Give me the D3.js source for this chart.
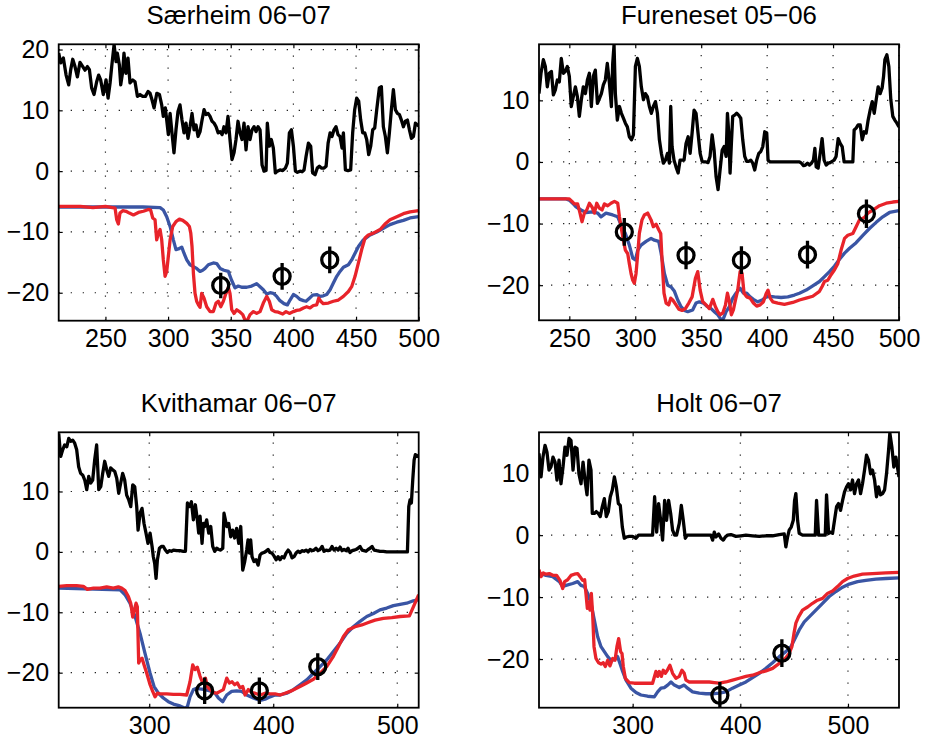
<!DOCTYPE html>
<html>
<head>
<meta charset="utf-8">
<script src="https://cdn.jsdelivr.net/npm/d3@7/dist/d3.min.js"></script>
<style>
  html, body { margin: 0; padding: 0; background: #fff; }
  svg { display: block; }
  text { font-family: "Liberation Sans", Arial, Helvetica, sans-serif; fill: #000; }
</style>
</head>
<body>
<svg id="chart" width="936" height="748"></svg>
<script>
// ---- Særheim 06-07 ----
const sarTitle = "Særheim 06−07";
const sarXTicks = [250, 300, 350, 400, 450, 500];
const sarYTicks = [-20, -10, 0, 10, 20];
const sarAir = [[212.7,19.4],[214.3,17.8],[216.4,18.6],[218.6,15.8],[220.7,14.2],[222.3,16.7],[223.9,18.4],[225.7,17.2],[227.6,15.5],[229.7,17.9],[231.9,17.2],[233.7,16.6],[235.6,17.2],[237.2,16.7],[239.0,13.7],[240.9,12.6],[243.0,14.7],[244.6,15.8],[246.2,15.0],[248.3,12.6],[250.5,15.0],[252.1,12.0],[253.7,14.5],[255.0,17.2],[256.9,20.8],[258.5,18.0],[259.5,19.4],[261.1,17.5],[262.2,14.2],[263.8,16.4],[264.8,19.4],[266.4,16.1],[268.0,18.6],[269.6,14.5],[271.8,15.0],[273.6,14.7],[275.5,12.3],[277.6,12.6],[279.7,12.3],[281.9,12.3],[284.0,13.1],[285.6,12.8],[287.2,11.7],[288.8,10.4],[291.0,12.8],[293.1,12.6],[294.9,10.9],[296.2,9.0],[297.8,10.4],[298.9,8.4],[300.2,6.0],[301.6,9.5],[303.1,6.3],[304.7,3.0],[306.3,6.8],[307.9,9.8],[309.5,10.9],[311.1,8.4],[312.7,6.3],[314.3,7.9],[315.9,5.4],[317.5,7.3],[319.1,9.5],[320.7,6.8],[322.3,7.6],[323.9,5.7],[325.5,6.5],[327.1,8.4],[328.7,10.1],[330.3,9.3],[331.9,9.5],[333.5,9.0],[335.1,8.2],[336.7,7.9],[338.3,7.3],[339.9,6.3],[341.5,6.5],[343.1,6.0],[344.6,7.3],[346.2,6.3],[347.8,9.0],[349.4,5.2],[351.0,1.9],[352.6,3.0],[354.2,5.2],[355.8,8.2],[357.4,6.3],[359.0,5.2],[360.6,7.9],[362.2,3.5],[363.8,7.3],[365.4,5.2],[367.0,6.8],[368.6,7.3],[370.2,6.5],[371.8,7.3],[373.4,6.8],[375.0,1.0],[376.6,0.0],[378.2,0.1],[379.2,7.9],[380.8,4.1],[382.4,5.2],[384.0,3.8],[385.6,-0.3],[387.2,0.0],[389.3,0.2],[391.5,0.1],[393.6,0.5],[395.2,1.3],[396.8,6.3],[398.4,6.8],[400.0,4.1],[401.6,0.0],[403.2,-0.2],[405.3,0.0],[406.9,-0.1],[408.5,0.2],[410.1,2.4],[412.0,4.6],[413.8,4.1],[415.4,-0.3],[417.3,-0.6],[419.1,0.5],[420.7,0.8],[422.3,0.5],[424.5,0.5],[426.1,0.8],[427.7,4.6],[429.3,6.3],[430.8,5.7],[432.4,6.8],[434.0,7.3],[435.6,6.0],[437.2,5.7],[438.8,3.8],[439.9,6.3],[441.5,0.2],[443.6,0.1],[445.7,0.2],[447.3,6.3],[448.9,10.1],[450.5,12.0],[452.1,11.5],[453.7,8.4],[455.3,6.3],[456.9,6.3],[458.5,5.2],[460.1,2.7],[461.7,4.1],[463.3,6.8],[464.9,7.1],[466.5,10.1],[468.6,13.7],[470.2,13.9],[471.8,7.3],[473.4,5.7],[475.0,3.0],[476.6,6.3],[478.2,10.1],[479.8,13.4],[481.4,10.1],[483.0,9.5],[484.6,9.3],[486.2,8.4],[487.8,7.3],[489.4,8.2],[491.0,8.4],[492.6,6.8],[494.2,5.4],[495.8,5.7],[497.4,7.9],[499.0,7.6],[500.0,7.4]];
const sarModel = [[212.7,-5.9],[250,-5.9],[280,-5.9],[293.6,-6.0],[296.2,-6.4],[298.9,-7.5],[301.6,-9.1],[304.2,-11.3],[306.3,-12.9],[308.2,-12.8],[310.9,-12.5],[312.7,-13.5],[314.9,-14.6],[317.5,-15.4],[320.2,-15.7],[322.8,-16.0],[325.5,-16.5],[327.6,-16.3],[329.5,-16.0],[332.1,-15.4],[336.1,-15.1],[338.8,-15.2],[341.5,-16.0],[344.6,-16.3],[348.1,-16.5],[350.6,-17.9],[353.4,-19.2],[356.0,-18.9],[358.7,-19.1],[362.7,-19.1],[366.7,-18.9],[370.7,-18.5],[373.4,-19.0],[376.0,-19.5],[378.7,-20.2],[381.4,-20.0],[384.0,-20.1],[386.7,-20.6],[389.3,-21.3],[392.5,-21.8],[395.2,-22.0],[397.3,-21.2],[400.0,-20.3],[402.6,-20.6],[405.3,-21.1],[408.0,-21.3],[410.1,-21.4],[412.8,-20.9],[415.4,-20.4],[418.6,-20.3],[421.3,-20.6],[423.9,-20.5],[426.6,-20.3],[429.3,-19.5],[431.9,-18.4],[434.6,-17.3],[437.2,-16.5],[439.9,-15.8],[443.9,-15.4],[446.5,-14.6],[449.2,-13.5],[451.9,-12.4],[455.9,-11.3],[461.2,-10.5],[466.5,-10.0],[471.8,-9.4],[477.1,-8.8],[482.5,-8.4],[487.8,-8.1],[493.1,-7.7],[500.0,-7.5]];
const sarMeasured = [[212.7,-5.8],[230,-5.8],[240,-6.0],[250,-5.8],[257.7,-6.1],[259.0,-8.0],[260.3,-8.7],[261.6,-6.9],[263.8,-6.5],[266.4,-6.6],[269.1,-6.9],[272.3,-7.2],[276.3,-6.8],[280.3,-6.6],[284.3,-6.3],[286.1,-6.4],[287.7,-7.7],[289.6,-8.0],[290.9,-11.3],[292.3,-10.2],[293.6,-9.6],[294.9,-11.3],[296.2,-14.6],[297.6,-17.3],[298.9,-16.5],[300.2,-14.0],[301.6,-11.3],[303.7,-9.1],[306.3,-8.3],[309.0,-7.9],[311.7,-8.1],[314.9,-8.6],[317.0,-9.1],[318.1,-10.2],[319.1,-12.4],[320.2,-16.8],[321.5,-20.1],[322.8,-21.4],[324.2,-22.0],[325.5,-22.4],[326.8,-20.1],[328.7,-20.9],[330.8,-22.3],[333.5,-23.1],[336.1,-23.1],[338.3,-21.7],[340.1,-21.4],[342.0,-22.3],[344.1,-21.4],[346.2,-20.1],[348.1,-19.1],[349.4,-20.1],[350.8,-22.8],[352.6,-23.4],[354.8,-22.8],[356.9,-23.1],[359.6,-23.6],[361.4,-24.5],[363.3,-24.5],[365.4,-23.6],[368.1,-23.1],[370.7,-23.4],[373.4,-23.1],[376.0,-21.7],[378.7,-20.6],[380.8,-21.4],[382.7,-22.8],[385.3,-23.1],[388.0,-23.2],[391.5,-23.5],[394.1,-23.1],[396.8,-23.4],[400.0,-23.1],[402.6,-22.9],[405.3,-22.8],[408.0,-22.5],[410.6,-22.3],[413.3,-22.5],[415.9,-22.1],[418.6,-22.0],[420.2,-20.9],[421.8,-21.4],[423.9,-21.8],[427.9,-21.7],[431.9,-21.4],[435.9,-21.2],[439.9,-20.6],[443.9,-19.8],[446.5,-19.0],[449.2,-17.3],[451.9,-15.1],[454.5,-12.9],[457.2,-11.0],[459.8,-10.5],[463.8,-10.2],[469.2,-9.6],[473.1,-8.7],[477.1,-8.0],[482.5,-7.5],[487.8,-7.0],[493.1,-6.7],[500.0,-6.5]];
// [day, value, half-width of error bar]
const sarSamples = [[342,-18.8,2.1],[391,-17.3,2.2],[429,-14.6,2.2]];

// ---- Fureneset 05-06 ----
const furTitle = "Fureneset 05−06";
const furXTicks = [250, 300, 350, 400, 450, 500];
const furYTicks = [-20, -10, 0, 10];
const furAir = [[227.0,11.1],[228.5,14.4],[230.3,16.6],[231.8,15.5],[233.3,12.2],[234.8,14.4],[236.4,14.7],[237.9,10.9],[239.4,11.7],[240.9,13.3],[242.4,13.0],[243.9,16.8],[245.5,14.4],[247.0,14.7],[248.5,15.5],[250.0,13.9],[251.5,9.0],[253.0,10.6],[254.6,12.2],[256.1,10.6],[257.6,7.4],[259.1,10.1],[260.6,12.2],[262.2,11.1],[263.7,13.3],[265.2,14.4],[266.7,9.0],[268.2,13.9],[269.7,14.9],[271.3,9.5],[272.8,10.3],[274.3,11.1],[275.8,12.5],[277.3,13.3],[278.8,16.0],[280.4,12.8],[281.9,9.0],[282.9,16.0],[283.9,19.0],[284.9,11.1],[286.4,6.8],[288.0,9.0],[289.5,7.9],[291.0,7.1],[292.5,6.3],[294.0,5.7],[295.5,4.1],[297.1,3.6],[298.6,4.4],[300.1,15.5],[301.6,16.8],[303.1,15.5],[304.6,12.2],[306.2,10.1],[307.7,11.1],[309.2,10.6],[310.7,9.0],[312.2,7.9],[313.7,9.0],[315.3,9.8],[316.8,7.9],[318.3,3.6],[319.8,1.4],[321.3,-0.2],[322.9,0.3],[324.4,1.4],[325.9,-0.2],[326.9,9.0],[327.9,2.5],[329.4,0.3],[330.9,-0.8],[332.5,-1.8],[334.0,0.3],[335.5,0.3],[337.0,0.3],[338.5,3.0],[340.1,4.1],[341.6,1.4],[343.1,4.7],[344.6,8.4],[346.1,7.9],[347.6,4.7],[349.2,1.4],[350.7,0.1],[352.2,0.0],[353.7,0.0],[355.2,-0.1],[356.7,0.9],[358.3,4.4],[359.8,1.9],[361.3,-2.4],[362.8,-4.5],[364.3,-1.3],[365.9,1.9],[367.4,2.5],[368.9,0.9],[369.9,7.9],[370.9,4.7],[371.9,-1.8],[372.9,3.0],[373.9,7.4],[375.4,7.6],[376.9,7.9],[378.4,7.6],[380.0,7.1],[381.5,3.6],[383.0,0.9],[384.5,0.1],[386.0,0.1],[387.6,0.3],[389.1,-0.2],[390.6,-1.3],[392.1,0.3],[393.7,1.4],[395.2,1.7],[396.7,2.5],[398.2,4.9],[399.7,4.7],[400.7,0.3],[402.3,0.0],[424.5,0.0],[426.0,-0.2],[427.6,-0.6],[429.1,-0.5],[430.6,-0.2],[432.1,-0.5],[433.6,-0.2],[435.1,0.3],[436.2,2.2],[437.2,-0.8],[438.7,-1.0],[440.2,1.4],[441.7,3.8],[443.2,0.3],[444.8,-0.5],[446.3,-0.2],[447.8,-0.1],[449.3,0.1],[450.8,0.3],[452.3,0.9],[453.9,3.8],[455.4,3.0],[456.9,2.5],[458.4,0.0],[465.0,0.0],[466.0,5.2],[467.5,5.5],[469.0,6.0],[470.6,6.0],[472.1,3.6],[473.6,4.9],[475.1,4.7],[476.6,6.8],[478.1,8.4],[479.7,9.8],[481.2,7.9],[482.7,10.1],[484.2,12.2],[485.7,11.1],[487.2,12.0],[488.3,13.9],[489.3,16.6],[490.8,17.4],[492.3,15.5],[493.8,10.1],[495.3,7.4],[496.8,6.8],[498.4,6.3],[500.0,5.7]];
const furModel = [[227,-6.0],[247.5,-6.0],[250.0,-6.2],[252.5,-6.7],[255.1,-7.3],[258.9,-7.8],[262.7,-8.2],[267.7,-8.1],[271.5,-8.3],[274.0,-8.9],[277.8,-8.3],[282.9,-8.6],[286.7,-8.9],[289.2,-10.2],[292.5,-11.6],[295.5,-13.5],[298.1,-15.6],[300.1,-15.9],[301.9,-14.3],[304.4,-13.5],[308.2,-12.9],[312.0,-12.4],[314.5,-12.7],[317.8,-12.9],[319.6,-14.8],[322.1,-18.1],[324.6,-20.0],[327.2,-20.3],[329.7,-21.0],[332.2,-22.4],[334.7,-23.5],[337.3,-24.1],[339.8,-24.3],[343.6,-24.0],[346.1,-22.9],[348.6,-22.7],[351.7,-22.9],[354.2,-23.4],[357.5,-23.8],[360.0,-24.3],[362.6,-24.8],[365.1,-25.6],[366.9,-25.4],[368.9,-24.3],[371.4,-23.5],[373.9,-22.1],[376.4,-21.3],[379.5,-20.5],[382.0,-21.3],[384.5,-21.3],[387.1,-21.9],[389.6,-22.3],[392.9,-22.7],[396.2,-22.4],[398.7,-22.0],[401.8,-21.8],[405.6,-21.9],[410.6,-22.0],[415.7,-21.9],[420.7,-21.6],[424.5,-21.3],[429.6,-20.8],[434.6,-20.1],[439.7,-19.4],[443.5,-18.6],[447.3,-17.8],[451.1,-16.9],[454.9,-15.8],[458.7,-14.8],[462.5,-14.0],[467.5,-13.1],[472.6,-11.9],[477.6,-10.8],[482.7,-9.8],[487.7,-8.9],[492.8,-8.2],[500.0,-7.9]];
const furMeasured = [[227,-6.0],[250.0,-6.0],[252.0,-6.4],[253.8,-6.8],[256.3,-6.8],[258.1,-8.3],[259.6,-9.7],[261.4,-8.3],[263.2,-7.8],[265.2,-6.7],[267.2,-7.3],[269.0,-8.3],[270.8,-6.7],[272.8,-7.5],[274.8,-7.8],[276.6,-6.8],[279.1,-7.1],[281.6,-6.7],[284.2,-6.4],[286.7,-6.7],[288.0,-8.9],[289.2,-10.5],[291.0,-12.7],[292.5,-14.3],[294.3,-14.9],[295.5,-16.5],[296.8,-18.1],[298.1,-19.2],[299.3,-19.7],[300.6,-18.1],[301.9,-14.8],[303.1,-11.6],[305.1,-9.4],[306.9,-8.6],[309.4,-8.3],[312.0,-9.4],[313.7,-10.5],[315.8,-10.1],[317.8,-11.0],[319.3,-11.6],[320.3,-15.9],[321.8,-21.3],[323.4,-22.9],[325.4,-23.2],[326.9,-22.1],[328.4,-22.4],[330.9,-23.2],[333.0,-23.9],[335.5,-24.1],[338.0,-23.8],[340.6,-22.9],[343.1,-21.9],[345.6,-18.9],[347.4,-17.8],[349.2,-20.8],[351.2,-22.7],[353.7,-23.2],[356.2,-23.8],[358.8,-22.3],[360.8,-23.5],[362.6,-24.3],[364.3,-24.8],[366.4,-24.5],[368.4,-23.2],[369.9,-21.3],[371.4,-22.7],[372.9,-24.8],[374.4,-24.0],[376.0,-22.4],[377.7,-20.8],[379.5,-17.8],[381.0,-18.1],[382.5,-21.3],[384.5,-21.9],[387.1,-22.1],[389.6,-22.9],[392.1,-23.4],[394.7,-23.2],[397.2,-22.7],[399.2,-21.4],[400.7,-20.8],[402.3,-22.1],[404.3,-22.7],[408.1,-22.9],[413.1,-23.1],[419.5,-22.8],[424.5,-22.4],[429.6,-22.1],[434.6,-21.8],[439.7,-21.0],[441.7,-20.2],[443.5,-19.4],[446.0,-19.2],[448.5,-18.3],[451.1,-17.5],[453.6,-16.5],[456.1,-14.3],[458.7,-12.4],[461.2,-11.9],[465.0,-11.6],[467.5,-10.5],[470.0,-9.4],[473.8,-9.0],[476.4,-8.3],[480.2,-7.8],[485.2,-7.1],[490.3,-6.7],[495.3,-6.5],[500.0,-6.4]];
const furSamples = [[291.7,-11.35,2.25],[338.5,-15.15,2.25],[380.5,-15.95,2.25],[430.6,-15.05,2.25],[475.3,-8.4,2.3]];

// ---- Kvithamar 06-07 ----
const kviTitle = "Kvithamar 06−07";
const kviXTicks = [300, 400, 500];
const kviYTicks = [-20, -10, 0, 10];
const kviAir = [[227.0,19.6],[228.6,15.8],[230.2,16.9],[231.8,17.7],[233.5,17.4],[235.1,18.8],[236.7,18.3],[238.3,18.5],[239.9,18.0],[241.5,16.9],[243.1,14.1],[244.7,13.0],[246.4,12.7],[248.0,11.9],[249.6,10.3],[251.2,12.5],[252.8,11.4],[254.4,11.9],[256.0,15.2],[257.6,17.7],[259.3,10.3],[260.9,10.8],[262.5,13.0],[264.1,15.0],[265.7,13.6],[267.3,12.5],[268.9,13.9],[270.5,13.6],[272.2,13.3],[273.8,12.2],[275.4,9.7],[277.0,11.4],[278.6,13.0],[280.2,11.9],[281.8,9.4],[283.5,8.6],[285.1,7.5],[286.7,11.1],[288.3,10.8],[289.9,7.5],[291.0,3.6],[292.6,6.4],[294.2,7.2],[295.8,4.7],[297.4,3.1],[299.0,1.4],[300.7,3.1],[302.3,0.9],[303.3,-0.8],[304.4,-1.9],[305.5,-4.4],[306.6,-1.3],[308.2,0.6],[309.8,0.9],[311.4,0.9],[313.0,0.3],[314.6,-0.1],[316.2,0.2],[317.9,0.1],[319.5,0.3],[322.2,0.2],[324.8,0.2],[327.5,0.1],[329.2,0.1],[330.8,8.1],[332.4,7.5],[334.0,8.3],[335.6,5.3],[337.2,7.8],[338.8,5.3],[339.9,3.1],[341.0,5.9],[342.6,1.4],[343.7,4.7],[344.7,4.2],[346.3,5.3],[348.0,3.1],[349.6,4.2],[351.2,0.9],[352.8,0.1],[354.4,0.6],[356.0,0.4],[357.6,0.3],[359.3,0.6],[360.3,6.4],[361.4,5.3],[362.5,4.2],[364.1,4.7],[365.7,2.5],[367.3,3.6],[368.9,2.3],[370.5,3.9],[372.2,1.4],[373.8,4.2],[375.4,-3.0],[377.0,-1.6],[378.6,0.3],[379.7,2.0],[380.8,-0.2],[381.8,2.0],[382.9,-0.8],[384.5,-1.6],[386.1,-1.3],[387.8,-2.2],[389.4,-0.5],[391.0,-0.2],[392.6,-0.1],[394.2,0.1],[395.8,0.4],[397.4,-0.1],[399.0,-0.2],[400.7,-0.7],[402.3,-1.3],[403.9,-0.8],[405.5,-1.3],[407.1,-0.8],[408.7,-1.0],[410.3,-0.2],[412.0,0.3],[413.6,-0.1],[415.2,-1.0],[416.8,-0.8],[418.4,-0.2],[420.0,0.1],[421.6,-0.1],[423.2,0.2],[424.8,0.1],[426.5,0.3],[428.1,0.0],[429.7,0.4],[431.3,0.2],[432.9,0.3],[434.5,0.6],[436.1,0.2],[437.8,0.4],[439.4,0.9],[441.0,0.1],[442.6,0.3],[444.2,0.2],[445.8,0.3],[447.4,0.9],[449.0,0.3],[450.7,0.6],[452.3,0.3],[453.9,0.8],[455.5,0.2],[457.1,0.4],[458.7,0.2],[460.3,0.6],[461.9,-0.1],[463.6,0.2],[465.2,0.3],[466.8,0.4],[468.4,0.6],[470.0,0.9],[471.6,0.3],[473.2,0.2],[474.8,0.1],[476.5,0.4],[478.1,0.6],[479.7,0.9],[481.3,0.3],[483.5,0.2],[486.1,0.1],[488.8,0.1],[491.5,0.0],[508.2,0.0],[509.3,7.5],[510.3,8.6],[511.4,8.1],[512.5,11.9],[513.6,15.2],[514.6,16.1],[517.3,15.8]];
const kviModel = [[227,-6.0],[276.5,-6.3],[280.5,-7.1],[284.5,-8.5],[288.6,-10.7],[292.6,-13.5],[296.6,-16.8],[300.7,-20.1],[303.9,-22.3],[307.4,-23.4],[311.4,-24.2],[315.4,-24.8],[319.5,-25.2],[324.8,-25.5],[328.9,-25.9],[330.8,-25.6],[332.9,-24.0],[335.6,-22.8],[338.3,-22.6],[341.0,-22.7],[345.0,-22.8],[349.0,-23.0],[353.1,-23.4],[355.8,-24.2],[359.3,-24.8],[362.5,-23.7],[366.5,-23.1],[370.5,-23.0],[374.6,-23.1],[378.6,-23.7],[384.0,-24.2],[389.4,-24.6],[393.4,-24.4],[397.4,-24.0],[401.5,-23.7],[405.5,-23.7],[410.9,-23.4],[416.3,-22.8],[421.6,-22.0],[427.0,-21.2],[432.4,-20.1],[437.8,-19.0],[443.1,-17.9],[448.5,-16.5],[453.9,-15.1],[459.3,-13.5],[464.6,-12.4],[470.0,-11.5],[475.4,-10.7],[480.8,-10.2],[486.1,-9.6],[491.5,-9.3],[496.9,-8.9],[502.3,-8.7],[507.6,-8.5],[513.0,-8.1],[517.3,-7.9]];
const kviMeasured = [[227.0,-5.7],[233.5,-5.6],[241.5,-5.6],[246.9,-5.7],[250.1,-6.2],[255.0,-6.0],[260.3,-6.0],[265.7,-5.8],[271.1,-6.0],[275.1,-5.8],[277.8,-6.0],[280.5,-6.4],[283.2,-7.4],[285.1,-8.5],[286.7,-10.8],[288.0,-9.6],[289.4,-8.5],[290.4,-9.1],[291.5,-18.4],[292.6,-17.9],[294.2,-17.6],[295.8,-18.7],[298.0,-20.1],[300.7,-22.0],[302.8,-23.1],[304.7,-24.0],[306.6,-23.4],[308.7,-23.5],[314.1,-23.5],[319.5,-23.6],[324.8,-23.6],[330.2,-23.7],[332.9,-21.5],[335.1,-18.7],[336.9,-19.5],[338.8,-19.1],[341.0,-20.6],[343.1,-21.7],[345.3,-20.9],[346.9,-22.3],[349.0,-22.8],[351.7,-23.3],[354.4,-23.4],[357.1,-23.1],[359.8,-22.8],[362.5,-20.9],[364.6,-21.7],[366.8,-21.5],[368.9,-22.0],[371.1,-21.7],[373.2,-22.5],[375.4,-22.3],[377.3,-23.7],[379.9,-22.8],[382.6,-23.3],[385.3,-23.4],[389.4,-23.7],[393.4,-23.4],[397.4,-23.5],[401.5,-23.5],[405.5,-23.7],[409.5,-23.4],[413.6,-23.1],[417.6,-22.7],[421.6,-22.3],[427.0,-21.7],[432.4,-21.1],[437.8,-20.1],[443.1,-19.0],[448.5,-17.3],[452.5,-15.7],[456.6,-14.0],[460.6,-12.9],[466.0,-12.4],[471.4,-12.1],[476.7,-11.7],[482.1,-11.3],[488.8,-11.0],[495.6,-10.9],[502.3,-10.7],[509.8,-10.6],[513.0,-9.1],[517.3,-7.1]];
const kviSamples = [[344.7,-23.0,2.2],[388.8,-23.0,2.2],[435.9,-19.0,2.2]];

// ---- Holt 06-07 ----
const holTitle = "Holt 06−07";
const holXTicks = [300, 400, 500];
const holYTicks = [-20, -10, 0, 10];
const holAir = [[213.0,13.2],[214.9,9.4],[216.7,12.6],[218.6,14.5],[220.4,13.4],[222.3,10.5],[224.1,11.0],[226.0,12.6],[227.9,11.8],[229.7,8.9],[231.6,12.1],[233.4,8.3],[235.3,11.0],[237.1,14.2],[239.0,12.9],[240.9,15.6],[242.7,15.3],[244.6,10.5],[246.4,14.2],[248.3,14.0],[250.1,9.9],[252.0,8.3],[253.9,11.8],[255.7,8.9],[257.6,6.5],[259.4,12.1],[261.3,10.5],[262.5,3.5],[264.4,3.5],[266.2,3.8],[268.1,3.5],[269.9,3.0],[271.8,4.6],[273.7,5.9],[275.5,3.0],[277.4,3.8],[279.2,6.2],[281.1,7.3],[283.0,9.4],[284.8,7.8],[286.7,5.1],[288.5,4.8],[290.4,1.3],[292.2,-0.5],[294.1,-0.3],[296.9,-0.2],[300.0,-0.2],[303.1,-0.5],[305.5,0.0],[309.3,0.0],[313.9,0.0],[318.5,0.0],[320.4,6.2],[322.3,0.5],[324.1,5.1],[326.0,2.4],[327.8,-0.8],[329.7,5.6],[331.5,2.4],[333.4,5.6],[335.3,3.5],[337.1,0.8],[339.0,0.0],[340.8,0.0],[343.3,1.9],[345.2,4.8],[347.0,2.4],[348.9,-0.5],[350.7,0.0],[355.7,0.0],[361.9,0.0],[368.1,0.0],[372.7,0.0],[374.3,-0.8],[375.8,0.5],[377.4,-0.3],[379.9,0.2],[382.0,-0.5],[384.2,-0.8],[386.0,-0.3],[388.2,0.0],[391.3,0.1],[395.9,-0.2],[400.6,-0.1],[405.2,0.0],[411.4,-0.1],[417.6,-0.2],[423.8,-0.1],[430.0,-0.1],[436.2,0.1],[440.8,0.2],[442.3,-1.9],[443.9,-0.3],[445.4,0.8],[447.3,1.3],[449.2,2.4],[450.4,5.6],[451.6,6.7],[453.2,2.4],[454.7,0.3],[457.8,0.0],[460.9,0.0],[467.1,0.0],[469.6,0.0],[470.8,5.6],[472.7,0.0],[476.4,0.0],[478.9,0.0],[480.1,6.5],[482.0,0.3],[483.8,0.5],[485.7,0.3],[487.5,2.4],[489.4,4.6],[491.2,5.1],[493.1,4.0],[495.0,5.6],[496.8,7.0],[498.7,7.8],[500.5,8.3],[502.4,7.3],[504.2,8.9],[506.1,6.7],[508.0,8.3],[509.8,8.9],[511.7,6.7],[513.5,8.3],[515.4,10.5],[517.2,12.9],[519.1,12.1],[521.0,9.9],[522.8,10.5],[524.7,8.9],[526.5,6.2],[528.4,7.8],[530.2,6.5],[532.1,6.7],[534.0,7.3],[535.8,9.9],[537.7,13.7],[538.9,16.5],[540.8,14.2],[542.6,11.0],[544.5,12.6],[547.4,9.4]];
const holModel = [[213.0,-6.1],[219.5,-6.5],[225.7,-6.7],[231.9,-7.5],[235.0,-8.3],[238.1,-8.1],[244.3,-7.8],[248.9,-7.5],[252.0,-8.1],[255.1,-8.3],[258.2,-9.4],[261.3,-11.0],[264.4,-13.7],[267.5,-16.4],[270.6,-18.0],[273.7,-18.8],[276.8,-19.6],[279.9,-20.2],[283.0,-20.1],[286.0,-19.6],[288.2,-20.7],[290.7,-22.0],[293.8,-23.4],[298.4,-24.7],[303.1,-25.4],[307.7,-25.8],[313.9,-26.0],[320.1,-26.1],[323.2,-25.3],[326.3,-24.7],[329.4,-24.6],[332.5,-24.2],[335.6,-23.7],[338.7,-24.2],[343.3,-24.6],[347.9,-24.2],[351.0,-24.7],[355.7,-25.3],[361.9,-25.5],[368.1,-25.6],[374.3,-25.6],[380.4,-25.5],[386.6,-25.3],[392.8,-24.7],[399.0,-24.2],[405.2,-23.7],[411.4,-23.0],[417.6,-22.3],[423.8,-21.5],[430.0,-20.6],[436.2,-19.6],[442.3,-18.8],[447.0,-18.0],[451.6,-16.4],[454.7,-15.3],[459.4,-14.0],[464.0,-13.2],[470.2,-12.1],[476.4,-11.0],[482.6,-9.9],[488.8,-9.1],[495.0,-8.4],[501.2,-7.9],[508.9,-7.5],[516.6,-7.3],[525.9,-7.1],[535.2,-7.0],[547.4,-6.9]];
const holMeasured = [[213.0,-5.6],[214.9,-6.7],[217.0,-6.1],[219.5,-6.3],[222.6,-6.2],[226.3,-6.5],[229.4,-6.5],[232.5,-7.3],[235.0,-8.6],[236.8,-7.5],[239.6,-7.2],[242.7,-6.5],[245.8,-6.3],[248.9,-6.2],[251.1,-6.7],[253.5,-7.3],[255.4,-7.2],[256.6,-9.4],[257.9,-11.8],[259.1,-10.8],[260.4,-12.1],[261.6,-9.4],[262.8,-12.6],[264.1,-18.0],[265.9,-19.9],[268.4,-20.6],[270.6,-20.8],[272.7,-20.6],[274.6,-21.2],[276.8,-20.2],[278.9,-21.1],[281.4,-19.9],[283.6,-20.2],[285.4,-18.0],[287.0,-16.7],[288.8,-18.8],[290.1,-19.1],[291.3,-21.2],[293.2,-23.1],[296.9,-23.8],[301.5,-23.9],[306.2,-23.9],[312.4,-23.9],[318.5,-23.9],[321.6,-22.0],[323.2,-22.8],[324.7,-22.0],[326.6,-22.8],[328.4,-21.8],[330.3,-22.3],[332.2,-21.8],[334.6,-21.0],[337.1,-22.3],[340.2,-23.1],[343.3,-22.8],[345.8,-21.8],[347.9,-22.3],[349.5,-23.4],[352.6,-23.7],[358.8,-23.7],[365.0,-23.7],[371.2,-23.7],[375.8,-23.8],[380.4,-23.9],[386.6,-23.7],[392.8,-23.4],[399.0,-23.1],[405.2,-22.8],[411.4,-22.6],[417.6,-22.2],[423.8,-21.9],[430.0,-21.5],[436.2,-20.7],[441.7,-19.9],[445.4,-19.1],[447.9,-18.0],[449.8,-15.9],[451.6,-14.2],[454.1,-13.2],[457.8,-12.1],[462.5,-11.6],[467.1,-11.0],[471.7,-10.5],[476.4,-10.2],[481.0,-9.4],[485.7,-9.0],[490.3,-8.3],[495.0,-7.5],[499.6,-7.0],[505.8,-6.6],[513.5,-6.3],[522.8,-6.2],[535.2,-6.1],[547.4,-6.0]];
const holSamples = [[381,-25.85,2.15],[438.6,-19.05,2.25]];

// ---- layout: plot box in pixels and axis limits for each panel ----
const panels = [
  { title: sarTitle, left: 58.7, top: 44.3, right: 418.7, bottom: 320.7, xlim: [212.7, 500], ylim: [-24.6, 20.86],
    xticks: sarXTicks, yticks: sarYTicks, air: sarAir, model: sarModel, measured: sarMeasured, samples: sarSamples },
  { title: furTitle, left: 539, top: 44.3, right: 899, bottom: 320.3, xlim: [227, 500], ylim: [-25.7, 19.1],
    xticks: furXTicks, yticks: furYTicks, air: furAir, model: furModel, measured: furMeasured, samples: furSamples },
  { title: kviTitle, left: 58.7, top: 432.3, right: 418.7, bottom: 707.7, xlim: [227, 517.3], ylim: [-25.8, 19.8],
    xticks: kviXTicks, yticks: kviYTicks, air: kviAir, model: kviModel, measured: kviMeasured, samples: kviSamples },
  { title: holTitle, left: 539, top: 432.3, right: 899, bottom: 707.7, xlim: [213, 547.4], ylim: [-27.85, 16.6],
    xticks: holXTicks, yticks: holYTicks, air: holAir, model: holModel, measured: holMeasured, samples: holSamples }
];

const COLORS = { air: "#000000", model: "#3a55a4", measured: "#e8232a", sample: "#000000" };
const TICK_FONT = 25;
const TITLE_FONT = 25.8;
const fmt = d3.format("d"); // d3 v7 renders negatives with U+2212

const svg = d3.select("#chart");
svg.append("rect").attr("width", 936).attr("height", 748).attr("fill", "#fff");

panels.forEach((p, i) => {
  const x = d3.scaleLinear().domain(p.xlim).range([p.left, p.right]);
  const y = d3.scaleLinear().domain(p.ylim).range([p.bottom, p.top]);
  const g = svg.append("g");
  const clipId = "clip" + i;
  g.append("clipPath").attr("id", clipId)
    .append("rect")
    .attr("x", p.left).attr("y", p.top)
    .attr("width", p.right - p.left).attr("height", p.bottom - p.top);

  // dotted grid
  const grid = g.append("g").attr("stroke", "#222").attr("stroke-width", 1.2)
    .attr("stroke-dasharray", "1.3,10.7");
  p.xticks.forEach(t => grid.append("line")
    .attr("x1", x(t)).attr("x2", x(t)).attr("y1", p.bottom).attr("y2", p.top));
  p.yticks.forEach(t => grid.append("line")
    .attr("x1", p.left).attr("x2", p.right).attr("y1", y(t)).attr("y2", y(t)));

  // axes with inward ticks on all four sides
  const tl = 4;
  const axB = d3.axisBottom(x).tickValues(p.xticks).tickSize(-tl).tickPadding(9).tickFormat(fmt);
  const axT = d3.axisTop(x).tickValues(p.xticks).tickSize(-tl).tickFormat("");
  const axL = d3.axisLeft(y).tickValues(p.yticks).tickSize(-tl).tickPadding(9.5).tickFormat(fmt);
  const axR = d3.axisRight(y).tickValues(p.yticks).tickSize(-tl).tickFormat("");
  const styleAxis = sel => {
    sel.select(".domain").remove();
    sel.selectAll(".tick line").attr("stroke", "#000").attr("stroke-width", 1.2);
    sel.selectAll("text").attr("font-size", TICK_FONT)
      .attr("font-family", "'Liberation Sans', Arial, Helvetica, sans-serif").attr("fill", "#000");
  };
  g.append("g").attr("transform", `translate(0,${p.bottom})`).call(axB).call(styleAxis);
  g.append("g").attr("transform", `translate(0,${p.top})`).call(axT).call(styleAxis);
  g.append("g").attr("transform", `translate(${p.left},0)`).call(axL).call(styleAxis);
  g.append("g").attr("transform", `translate(${p.right},0)`).call(axR).call(styleAxis);

  // data
  const line = d3.line().x(d => x(d[0])).y(d => y(d[1]));
  const data = g.append("g").attr("clip-path", `url(#${clipId})`);
  data.append("path").datum(p.air).attr("d", line)
    .attr("fill", "none").attr("stroke", COLORS.air).attr("stroke-width", 3.3).attr("stroke-linejoin", "round");
  data.append("path").datum(p.model).attr("d", line)
    .attr("fill", "none").attr("stroke", COLORS.model).attr("stroke-width", 3.3).attr("stroke-linejoin", "round");
  data.append("path").datum(p.measured).attr("d", line)
    .attr("fill", "none").attr("stroke", COLORS.measured).attr("stroke-width", 3.3).attr("stroke-linejoin", "round");

  const pts = data.append("g").selectAll("g").data(p.samples).join("g");
  pts.append("line")
    .attr("x1", d => x(d[0])).attr("x2", d => x(d[0]))
    .attr("y1", d => y(d[1] + d[2])).attr("y2", d => y(d[1] - d[2]))
    .attr("stroke", COLORS.sample).attr("stroke-width", 3.3);
  pts.append("circle")
    .attr("cx", d => x(d[0])).attr("cy", d => y(d[1])).attr("r", 8)
    .attr("fill", "none").attr("stroke", COLORS.sample).attr("stroke-width", 3.3);

  // box
  g.append("rect")
    .attr("x", p.left).attr("y", p.top)
    .attr("width", p.right - p.left).attr("height", p.bottom - p.top)
    .attr("fill", "none").attr("stroke", "#000").attr("stroke-width", 1.8);

  // title
  g.append("text")
    .attr("x", (p.left + p.right) / 2).attr("y", p.top - 20.5)
    .attr("text-anchor", "middle").attr("font-size", TITLE_FONT)
    .text(p.title);
});
</script>
</body>
</html>
